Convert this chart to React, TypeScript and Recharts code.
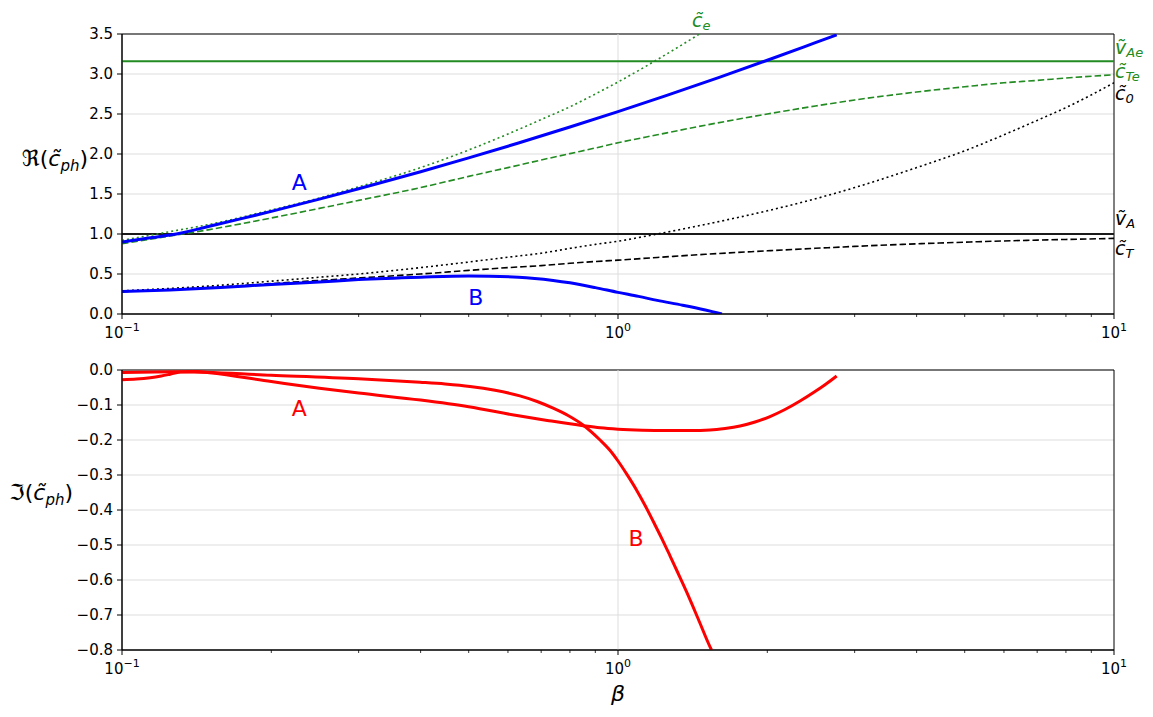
import React from 'react';
import {
  LineChart,
  Line,
  XAxis,
  YAxis,
  CartesianGrid,
  ReferenceLine,
  ReferenceArea,
  ReferenceDot,
  Label,
} from 'recharts';

const FONT = '"DejaVu Sans", sans-serif';
const GREEN = '#228b22';
const BLUE = '#0000ff';
const RED = '#ff0000';
const GRID = '#dddddd';

// characteristic speeds
const beta = [0.1, 0.125, 0.15, 0.2, 0.25, 0.3, 0.4, 0.5, 0.6, 0.7, 0.8, 0.9, 1, 1.2, 1.5, 2, 2.5, 3, 4, 5, 6, 7, 8, 10];
const c0 = [0.29, 0.32, 0.35, 0.41, 0.46, 0.5, 0.58, 0.65, 0.71, 0.76, 0.82, 0.87, 0.91, 1.0, 1.12, 1.29, 1.44, 1.58, 1.83, 2.04, 2.24, 2.42, 2.58, 2.89];
const cT = [0.28, 0.305, 0.33, 0.38, 0.42, 0.45, 0.5, 0.545, 0.58, 0.605, 0.634, 0.656, 0.673, 0.707, 0.746, 0.79, 0.821, 0.845, 0.877, 0.898, 0.913, 0.924, 0.932, 0.945];
const cTe = [0.88, 0.975, 1.055, 1.2, 1.32, 1.42, 1.58, 1.72, 1.83, 1.925, 2.005, 2.075, 2.14, 2.24, 2.36, 2.5, 2.6, 2.675, 2.775, 2.84, 2.89, 2.92, 2.95, 2.99];

const ceBeta = [0.1, 0.125, 0.15, 0.2, 0.25, 0.3, 0.4, 0.5, 0.6, 0.7, 0.8, 0.9, 1, 1.2, 1.35, 1.46];
const ce = [0.92, 1.03, 1.12, 1.3, 1.45, 1.59, 1.83, 2.05, 2.25, 2.43, 2.59, 2.75, 2.9, 3.18, 3.37, 3.5];

const edgeBeta = [0.1, 10];
const vA = [1, 1];
const vAe = [3.16, 3.16];

// mode A and mode B, real part
const aReBeta = [0.1, 0.115, 0.131, 0.15, 0.175, 0.2, 0.25, 0.3, 0.4, 0.5, 0.63, 0.8, 1, 1.25, 1.6, 2, 2.5, 2.76];
const aRe = [0.9, 0.955, 1.01, 1.096, 1.195, 1.283, 1.436, 1.565, 1.778, 1.951, 2.137, 2.337, 2.53, 2.73, 2.958, 3.172, 3.392, 3.49];
const bReBeta = [0.1, 0.125, 0.158, 0.2, 0.25, 0.3, 0.4, 0.5, 0.63, 0.74, 0.8, 0.9, 1, 1.1, 1.2, 1.35, 1.5, 1.62];
const bRe = [0.28, 0.3, 0.33, 0.37, 0.4, 0.43, 0.46, 0.475, 0.46, 0.42, 0.39, 0.33, 0.27, 0.22, 0.17, 0.11, 0.05, 0.0];

// imaginary part
const aImBeta = [0.1, 0.107, 0.114, 0.12, 0.125, 0.131, 0.14, 0.15, 0.2, 0.25, 0.3, 0.4, 0.5, 0.63, 0.72, 0.85, 0.92, 1, 1.12, 1.25, 1.397, 1.533, 1.644, 1.762, 1.889, 2.025, 2.171, 2.328, 2.496, 2.627, 2.76];
const aIm = [-0.028, -0.026, -0.022, -0.017, -0.012, -0.006, -0.004, -0.008, -0.033, -0.052, -0.066, -0.086, -0.105, -0.131, -0.144, -0.159, -0.165, -0.169, -0.172, -0.173, -0.1729, -0.1714, -0.167, -0.16, -0.1486, -0.133, -0.1129, -0.0886, -0.0614, -0.04, -0.0171];
const bImBeta = [0.1, 0.13, 0.2, 0.3, 0.399, 0.448, 0.503, 0.565, 0.634, 0.687, 0.74, 0.793, 0.85, 0.92, 0.964, 1, 1.043, 1.091, 1.134, 1.178, 1.225, 1.273, 1.321, 1.375, 1.45, 1.533, 1.544];
const bIm = [-0.007, -0.005, -0.015, -0.025, -0.035, -0.04, -0.047, -0.058, -0.074, -0.09, -0.109, -0.13, -0.157, -0.2, -0.23, -0.26, -0.299, -0.344, -0.387, -0.433, -0.481, -0.531, -0.58, -0.634, -0.71, -0.791, -0.8];

const xTicks = [0.1, 0.2, 0.3, 0.4, 0.5, 0.6, 0.7, 0.8, 0.9, 1, 2, 3, 4, 5, 6, 7, 8, 9, 10];
const xExp: Record<string, string> = { '0.1': '\u22121', '1': '0', '10': '1' };
const reTicks = [0, 0.5, 1, 1.5, 2, 2.5, 3, 3.5];
const imTicks = [-0.8, -0.7, -0.6, -0.5, -0.4, -0.3, -0.2, -0.1, 0];

// annotations
const modeNotesTop = [
  { b: 0.2276, v: 1.64, text: 'A', color: BLUE },
  { b: 0.517, v: 0.21, text: 'B', color: BLUE },
];
const modeNotesBottom = [
  { b: 0.2276, v: -0.111, text: 'A', color: RED },
  { b: 1.087, v: -0.48, text: 'B', color: RED },
];
const speedNotes = [
  { b: 1.41, v: 3.59, base: 'c\u0303', sub: 'e', color: GREEN },
  { b: 10.05, v: 3.256, base: '\u1e7d', sub: 'Ae', color: GREEN },
  { b: 10.05, v: 2.95, base: 'c\u0303', sub: 'Te', color: GREEN },
  { b: 10.05, v: 2.68, base: 'c\u0303', sub: '0', color: '#000' },
  { b: 10.05, v: 1.11, base: '\u1e7d', sub: 'A', color: '#000' },
  { b: 10.05, v: 0.74, base: 'c\u0303', sub: 'T', color: '#000' },
];

const pts = (bs: number[], vs: number[]) => bs.map((b, i) => ({ b, v: vs[i] }));
const fmt = (v: number) => v.toFixed(1).replace('-', '\u2212');

const LogTick = (props: any) => {
  const { x, y, payload } = props;
  const exp = xExp[String(payload.value)];
  const major = exp !== undefined;
  return (
    <g>
      <line x1={x} x2={x} y1={y} y2={y + (major ? 5 : 3)} stroke="#000" strokeWidth={major ? 1 : 0.8} />
      {major && (
        <text x={x} y={y + 24} textAnchor="middle" fontFamily={FONT} fontSize={15} fill="#000">
          10
          <tspan fontSize={11} dy={-7}>
            {exp}
          </tspan>
        </text>
      )}
    </g>
  );
};

const yLabel = (fn: string, right: number, lift: number) => (props: any) => {
  const { x, y, height } = props.viewBox;
  return (
    <text x={x + right} y={y + height / 2 - lift} textAnchor="end" fontFamily={FONT} fontSize={22} fill="#000">
      {fn}(
      <tspan fontStyle="italic">{'c\u0303'}</tspan>
      <tspan fontStyle="italic" fontSize={15} dy={5}>
        ph
      </tspan>
      <tspan dy={-5}>)</tspan>
    </text>
  );
};

const betaLabel = (props: any) => {
  const { x, y, width } = props.viewBox;
  return (
    <text x={x + width / 2} y={y + 51} textAnchor="middle" fontFamily={FONT} fontSize={22} fontStyle="italic" fill="#000">
      β
    </text>
  );
};

const modeNote = (n: { text: string; color: string }) => (p: any) => (
  <text x={p.cx} y={p.cy} textAnchor="middle" dominantBaseline="central" fontFamily={FONT} fontSize={22} fill={n.color}>
    {n.text}
  </text>
);

const speedNote = (n: { base: string; sub: string; color: string }) => (p: any) => (
  <text x={p.cx} y={p.cy} fontFamily={FONT} fontSize={19} fontStyle="italic" fill={n.color}>
    {n.base}
    <tspan fontSize={13} dy={3}>
      {n.sub}
    </tspan>
  </text>
);

const axisFont = { fill: '#000', fontSize: 15, fontFamily: FONT };

export default function App() {
  return (
    <div style={{ position: 'absolute', left: 0, top: 0, width: 1153, height: 717, background: '#fff' }}>
      <div style={{ position: 'absolute', left: 0, top: 0 }}>
        <LineChart width={1153} height={350} margin={{ top: 34, right: 39, bottom: 0, left: 0 }}>
          <CartesianGrid vertical={false} stroke={GRID} />
          <ReferenceLine x={1} stroke={GRID} />
          <XAxis
            type="number"
            dataKey="b"
            scale="log"
            domain={[0.1, 10]}
            allowDataOverflow
            ticks={xTicks}
            interval={0}
            tick={<LogTick />}
            tickLine={false}
            tickSize={0}
            tickMargin={0}
            height={36}
            axisLine={{ stroke: '#000' }}
          />
          <YAxis
            type="number"
            domain={[0, 3.5]}
            allowDataOverflow
            ticks={reTicks}
            interval={0}
            width={122}
            tickSize={5}
            tickMargin={4}
            tick={axisFont}
            tickFormatter={fmt}
            tickLine={{ stroke: '#000' }}
            axisLine={{ stroke: '#000' }}
          >
            <Label content={yLabel('\u211c', 88, 8)} />
          </YAxis>
          <Line data={pts(edgeBeta, vAe)} dataKey="v" stroke={GREEN} strokeWidth={2} dot={false} isAnimationActive={false} />
          <Line data={pts(edgeBeta, vA)} dataKey="v" stroke="#1a1a1a" strokeWidth={2} dot={false} isAnimationActive={false} />
          <Line type="monotone" data={pts(beta, cTe)} dataKey="v" stroke={GREEN} strokeWidth={1.6} strokeDasharray="6.5 3" dot={false} isAnimationActive={false} />
          <Line type="monotone" data={pts(ceBeta, ce)} dataKey="v" stroke={GREEN} strokeWidth={1.6} strokeDasharray="2 3" dot={false} isAnimationActive={false} />
          <Line type="monotone" data={pts(beta, c0)} dataKey="v" stroke="#000" strokeWidth={1.6} strokeDasharray="2 3" dot={false} isAnimationActive={false} />
          <Line type="monotone" data={pts(beta, cT)} dataKey="v" stroke="#000" strokeWidth={1.6} strokeDasharray="6.5 3" dot={false} isAnimationActive={false} />
          <Line type="monotone" data={pts(aReBeta, aRe)} dataKey="v" stroke={BLUE} strokeWidth={3} dot={false} isAnimationActive={false} />
          <Line type="monotone" data={pts(bReBeta, bRe)} dataKey="v" stroke={BLUE} strokeWidth={3} dot={false} isAnimationActive={false} />
          <ReferenceArea x1={0.1} x2={10} y1={0} y2={3.5} fill="none" stroke="#000" strokeWidth={1} ifOverflow="visible" />
          {modeNotesTop.map((n, i) => (
            <ReferenceDot key={'mt' + i} x={n.b} y={n.v} r={1} ifOverflow="visible" shape={modeNote(n)} />
          ))}
          {speedNotes.map((n, i) => (
            <ReferenceDot key={'sn' + i} x={n.b} y={n.v} r={1} ifOverflow="visible" shape={speedNote(n)} />
          ))}
        </LineChart>
      </div>
      <div style={{ position: 'absolute', left: 0, top: 350 }}>
        <LineChart width={1153} height={367} margin={{ top: 20, right: 39, bottom: 0, left: 0 }}>
          <CartesianGrid vertical={false} stroke={GRID} />
          <ReferenceLine x={1} stroke={GRID} />
          <XAxis
            type="number"
            dataKey="b"
            scale="log"
            domain={[0.1, 10]}
            allowDataOverflow
            ticks={xTicks}
            interval={0}
            tick={<LogTick />}
            tickLine={false}
            tickSize={0}
            tickMargin={0}
            height={67}
            axisLine={{ stroke: '#000' }}
          >
            <Label content={betaLabel} />
          </XAxis>
          <YAxis
            type="number"
            domain={[-0.8, 0]}
            allowDataOverflow
            ticks={imTicks}
            interval={0}
            width={122}
            tickSize={5}
            tickMargin={4}
            tick={axisFont}
            tickFormatter={fmt}
            tickLine={{ stroke: '#000' }}
            axisLine={{ stroke: '#000' }}
          >
            <Label content={yLabel('\u2111', 73, 10)} />
          </YAxis>
          <Line type="monotone" data={pts(aImBeta, aIm)} dataKey="v" stroke={RED} strokeWidth={3} dot={false} isAnimationActive={false} />
          <Line type="monotone" data={pts(bImBeta, bIm)} dataKey="v" stroke={RED} strokeWidth={3} dot={false} isAnimationActive={false} />
          <ReferenceArea x1={0.1} x2={10} y1={-0.8} y2={0} fill="none" stroke="#000" strokeWidth={1} ifOverflow="visible" />
          {modeNotesBottom.map((n, i) => (
            <ReferenceDot key={'mb' + i} x={n.b} y={n.v} r={1} ifOverflow="visible" shape={modeNote(n)} />
          ))}
        </LineChart>
      </div>
    </div>
  );
}
